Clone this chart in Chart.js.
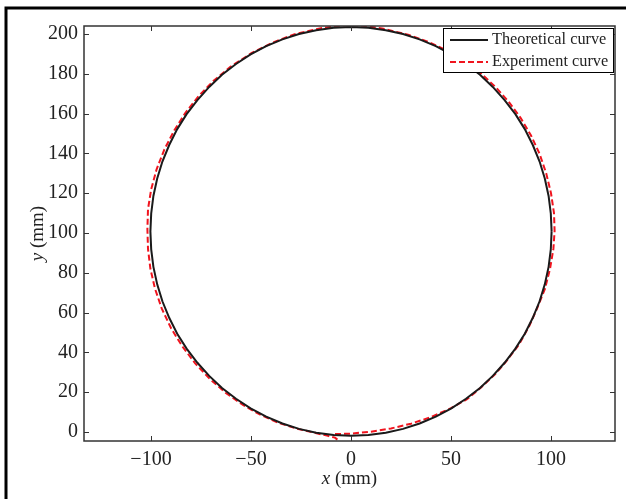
<!DOCTYPE html>
<html>
<head>
<meta charset="utf-8">
<script src="https://cdn.jsdelivr.net/npm/chart.js@4.4.0/dist/chart.umd.min.js"></script>
<style>
html, body { margin: 0; padding: 0; background: #fff; }
canvas { display: block; }
</style>
</head>
<body>
<canvas id="chart" width="626" height="499"></canvas>
<script>
// tick labels
const xTicks = [-100, -50, 0, 50, 100];
const yTicks = [0, 20, 40, 60, 80, 100, 120, 140, 160, 180, 200];

const seriesNames = ['Theoretical curve', 'Experiment curve'];

// theoretical curve (counter-clockwise from the right)
const theoryX = [100.3, 99.9, 98.8, 96.9, 94.3, 90.9, 86.9, 82.2, 76.8, 70.9, 64.5, 57.5, 50.2, 42.4, 34.3, 26.0, 17.4, 8.7, 0,
    -8.7, -17.4, -26.0, -34.3, -42.4, -50.2, -57.5, -64.5, -70.9, -76.8, -82.2, -86.9, -90.9, -94.3, -96.9, -98.8, -99.9, -100.3,
    -99.9, -98.8, -96.9, -94.3, -90.9, -86.9, -82.2, -76.8, -70.9, -64.5, -57.5, -50.2, -42.4, -34.3, -26.0, -17.4, -8.7, 0,
    8.7, 17.4, 26.0, 34.3, 42.4, 50.2, 57.5, 64.5, 70.9, 76.8, 82.2, 86.9, 90.9, 94.3, 96.9, 98.8, 99.9, 100.3];
const theoryY = [100.8, 109.8, 118.6, 127.4, 135.9, 144.2, 152.2, 159.7, 166.8, 173.4, 179.5, 184.9, 189.7, 193.9, 197.3, 200.0, 201.9, 203.1, 203.5,
    203.1, 201.9, 200.0, 197.3, 193.9, 189.7, 184.9, 179.5, 173.4, 166.8, 159.7, 152.2, 144.2, 135.9, 127.4, 118.6, 109.8, 100.8,
    91.8, 83.0, 74.2, 65.7, 57.4, 49.4, 41.9, 34.8, 28.2, 22.1, 16.7, 11.9, 7.7, 4.3, 1.6, -0.3, -1.5, -1.9,
    -1.5, -0.3, 1.6, 4.3, 7.7, 11.9, 16.7, 22.1, 28.2, 34.8, 41.9, 49.4, 57.4, 65.7, 74.2, 83.0, 91.8, 100.8];

// experiment curve
const expX = [-8, 0, 10, 20, 30, 40, 50, 58, 65, 72, 78, 84, 89, 93, 97, 99.5, 101.2, 101.8, 101.5, 100, 97.6, 94.2, 90.0, 84.7, 78.8, 72.6, 65.2,
    57.2, 48.3, 38.8, 29, 15.5, 5, -5, -15, -28.5, -39.5, -49.6, -60.3, -68.7, -76, -82.7, -88.4, -93.3, -97.2, -99.9, -101.5, -101.8, -101.5, -100.3,
    -98, -94.6, -89.9, -84.3, -77.9, -70.4, -62.4, -53.8, -45, -36.6, -27.5, -19, -12, -8, -6, -4.5];
const expY = [-1.0, -0.8, 0.2, 1.8, 4.2, 7.5, 12.0, 16.5, 22.4, 29, 36, 44, 53, 62, 72, 82, 92, 101, 110, 120, 130, 140, 149, 158, 166, 173, 180,
    186, 191.5, 196, 199.5, 202.8, 204.2, 204.2, 202.9, 199.8, 195.5, 190.5, 183.5, 176.5, 169, 160.5, 151.5, 142, 132, 122, 112, 102, 92, 82,
    72, 62, 52, 43, 34.5, 26.5, 19.5, 13.5, 8.5, 4.8, 1.8, -0.2, -1.8, -2.8, -4.5, -6];

const toPoints = (xs, ys) => xs.map((x, i) => ({ x: x, y: ys[i] }));
const FONT = '"Liberation Serif", "Times New Roman", serif';

const framePlugin = {
    id: 'frame',
    afterDraw(chart) {
        const ctx = chart.ctx;
        const area = chart.chartArea;
        const xs = chart.scales.x;
        const ys = chart.scales.y;
        ctx.save();

        // outer figure border
        ctx.strokeStyle = '#000';
        ctx.lineWidth = 3;
        ctx.strokeRect(6, 8, 700, 600);

        // axes box
        ctx.strokeStyle = '#333';
        ctx.lineWidth = 1.5;
        ctx.strokeRect(area.left, area.top, area.right - area.left, area.bottom - area.top);

        // inward ticks
        ctx.lineWidth = 1;
        ctx.beginPath();
        xTicks.forEach(v => {
            const p = Math.round(xs.getPixelForValue(v)) + 0.5;
            ctx.moveTo(p, area.bottom); ctx.lineTo(p, area.bottom - 5);
            ctx.moveTo(p, area.top); ctx.lineTo(p, area.top + 5);
        });
        yTicks.forEach(v => {
            const p = Math.round(ys.getPixelForValue(v)) + 0.5;
            ctx.moveTo(area.left, p); ctx.lineTo(area.left + 5, p);
            ctx.moveTo(area.right, p); ctx.lineTo(area.right - 5, p);
        });
        ctx.stroke();

        // axis titles with italic variable
        ctx.fillStyle = '#222';
        ctx.textBaseline = 'middle';
        const drawTitle = (v, unit, cx, cy, rot) => {
            ctx.save();
            ctx.translate(cx, cy);
            ctx.rotate(rot);
            ctx.font = 'italic 19px ' + FONT;
            const w1 = ctx.measureText(v).width;
            ctx.font = '19px ' + FONT;
            const w2 = ctx.measureText(unit).width;
            const x0 = -(w1 + w2) / 2;
            ctx.textAlign = 'left';
            ctx.font = 'italic 19px ' + FONT;
            ctx.fillText(v, x0, 0);
            ctx.font = '19px ' + FONT;
            ctx.fillText(unit, x0 + w1, 0);
            ctx.restore();
        };
        drawTitle('x', ' (mm)', (area.left + area.right) / 2, 479, 0);
        drawTitle('y', ' (mm)', 38, (area.top + area.bottom) / 2, -Math.PI / 2);

        // legend box
        const lx = 443, ly = 28, lw = 170, lh = 44;
        ctx.fillStyle = '#fff';
        ctx.fillRect(lx, ly, lw, lh);
        ctx.strokeStyle = '#000';
        ctx.lineWidth = 1;
        ctx.strokeRect(lx + 0.5, ly + 0.5, lw, lh);
        chart.data.datasets.forEach((ds, i) => {
            const ry = ly + 12 + i * 22;
            ctx.strokeStyle = ds.borderColor;
            ctx.lineWidth = 2;
            ctx.setLineDash(ds.borderDash || []);
            ctx.beginPath();
            ctx.moveTo(450, ry);
            ctx.lineTo(488, ry);
            ctx.stroke();
            ctx.setLineDash([]);
            ctx.fillStyle = '#222';
            ctx.font = '16.3px ' + FONT;
            ctx.textAlign = 'left';
            ctx.fillText(ds.label, 492, ry);
        });
        ctx.restore();
    }
};

new Chart(document.getElementById('chart').getContext('2d'), {
    type: 'scatter',
    data: {
        datasets: [{
            label: seriesNames[0],
            data: toPoints(theoryX, theoryY),
            showLine: true,
            borderColor: '#1a1a1a',
            borderWidth: 2,
            pointRadius: 0,
            tension: 0,
            clip: 0
        }, {
            label: seriesNames[1],
            data: toPoints(expX, expY),
            showLine: true,
            borderColor: '#f0141e',
            borderWidth: 2,
            borderDash: [6, 3],
            pointRadius: 0,
            tension: 0,
            clip: 0
        }]
    },
    options: {
        responsive: false,
        animation: false,
        devicePixelRatio: 1,
        layout: { padding: { top: 26, right: 11, left: 0, bottom: 0 } },
        plugins: { legend: { display: false }, tooltip: { enabled: false } },
        scales: {
            x: {
                type: 'linear',
                min: -133.5,
                max: 132,
                afterBuildTicks: s => { s.ticks = xTicks.map(v => ({ value: v })); },
                afterFit: s => { s.height = 58; },
                grid: { display: false, drawTicks: false },
                border: { display: false },
                ticks: {
                    autoSkip: false,
                    maxRotation: 0,
                    padding: 7,
                    color: '#222',
                    font: { family: FONT, size: 20 },
                    callback: v => v < 0 ? '\u2212' + Math.abs(v) : String(v)
                }
            },
            y: {
                type: 'linear',
                min: -4.5,
                max: 204,
                afterBuildTicks: s => { s.ticks = yTicks.map(v => ({ value: v })); },
                afterFit: s => { s.width = 84; },
                grid: { display: false, drawTicks: false },
                border: { display: false },
                ticks: {
                    autoSkip: false,
                    padding: 6,
                    color: '#222',
                    font: { family: FONT, size: 20 }
                }
            }
        }
    },
    plugins: [framePlugin]
});
</script>
</body>
</html>
